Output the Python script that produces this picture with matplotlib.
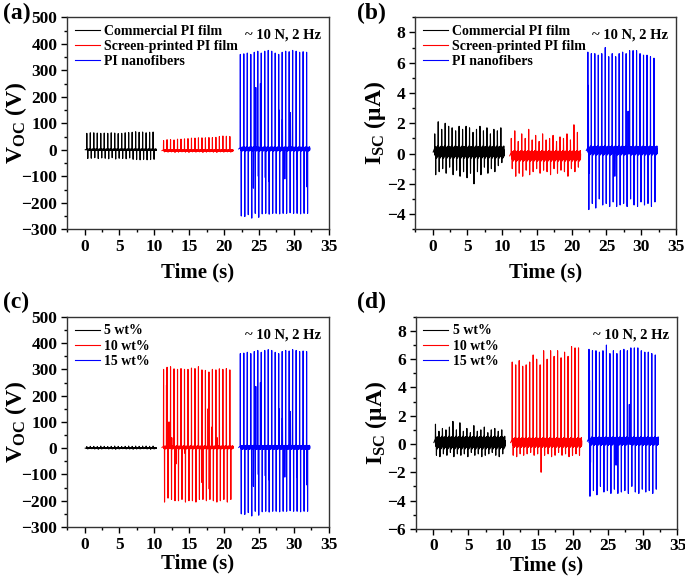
import numpy as np
import matplotlib
matplotlib.use("Agg")
from matplotlib import pyplot as plt
from matplotlib.ticker import MultipleLocator, AutoMinorLocator

plt.rcParams['font.family'] = 'Liberation Serif'
plt.rcParams['font.weight'] = 'bold'
plt.rcParams['mathtext.fontset'] = 'custom'
plt.rcParams['mathtext.rm'] = 'Liberation Serif:bold'
plt.rcParams['mathtext.it'] = 'Liberation Serif:bold'
plt.rcParams['mathtext.bf'] = 'Liberation Serif:bold'

# start times (s) of each measurement block, 2 Hz -> one cycle every 0.5 s
t_start = [0.3, 11.3, 22.3]
period = 0.5

# ---- open-circuit voltage peaks (V), one value per cycle ----
voc_pos_commercial = [62, 64, 64, 63, 62, 63, 62, 64, 63, 61, 62, 64, 65, 66, 68, 66, 67, 64, 66, 67]
voc_neg_commercial = [-33, -32, -30, -33, -31, -32, -34, -30, -35, -32, -33, -34, -31, -36, -37, -38, -36, -38, -37, -36]
voc_pos_screen = [35, 38, 38, 37, 40, 40, 41, 42, 44, 44, 45, 45, 45, 46, 46, 47, 50, 52, 51, 50]
voc_neg_screen = [-8, -9, -8, -10, -9, -8, -9, -10, -8, -9, -8, -10, -9, -8, -9, -10, -8, -9, -8, -9]
voc_pos_nano = [360, 362, 365, 360, 368, 372, 365, 372, 375, 372, 365, 360, 368, 372, 370, 375, 372, 368, 370, 368]
voc_neg_nano = [-250, -252, -245, -258, -240, -255, -242, -240, -243, -240, -240, -242, -240, -240, -238, -240, -240, -242, -240, -240]
voc_extra_nano = [(22.45, -150), (23.3, 290), (23.95, -110), (24.2, -145), (24.55, 235), (24.9, -100),
                  (25.2, 250), (25.9, -105), (26.4, -120), (27.85, 150), (28.35, 115), (28.7, -110),
                  (29.5, 140), (29.8, 185), (30.4, -110), (31.3, 40), (31.85, -140)]
voc_pos_5wt = [6, 7, 7, 6, 8, 7, 6, 7, 8, 7, 6, 7, 8, 7, 8, 7, 8, 8, 7, 8]
voc_neg_5wt = [-3, -2, -3, -4, -3, -2, -3, -3, -4, -3, -2, -3, -3, -4, -3, -3, -2, -3, -4, -3]
voc_pos_10wt = [300, 308, 310, 302, 300, 303, 300, 300, 305, 303, 310, 298, 296, 290, 300, 298, 302, 300, 303, 298]
voc_neg_10wt = [-205, -190, -195, -200, -200, -195, -205, -200, -200, -205, -195, -195, -200, -195, -200, -205, -200, -195, -205, -195]
voc_extra_10wt = [(11.75, 240), (12.0, -155), (12.1, 100), (12.5, 40), (13.1, -60), (14.4, -20),
                  (16.3, 245), (16.8, -130), (17.7, 150), (17.85, -155), (18.2, 80), (19.0, 40)]

# ---- short-circuit current peaks (uA), one value per cycle ----
isc_pos_commercial = [1.3, 2.1, 1.6, 2.0, 1.8, 1.7, 1.5, 1.8, 1.6, 1.8, 1.7, 1.4, 1.6, 1.8, 1.5, 1.7, 1.3, 1.6, 1.5, 1.7]
isc_neg_commercial = [-1.4, -1.2, -1.0, -1.3, -0.9, -1.4, -1.1, -1.5, -1.2, -1.6, -1.3, -2.0, -1.2, -1.4, -0.9, -1.3, -1.0, -1.2, -0.8, -0.6]
isc_pos_screen = [1.0, 1.5, 0.8, 1.3, 1.0, 1.6, 0.9, 1.2, 0.8, 1.3, 0.9, 1.0, 1.2, 0.8, 1.1, 1.0, 1.3, 0.9, 1.9, 1.4]
isc_neg_screen = [-1.0, -1.5, -1.3, -1.5, -1.1, -1.4, -1.2, -1.0, -1.3, -1.1, -1.2, -1.4, -1.0, -1.3, -1.1, -1.2, -1.5, -1.0, -1.2, -0.9]
isc_pos_nano = [6.7, 6.6, 6.6, 6.5, 6.6, 7.0, 6.4, 6.6, 6.4, 6.6, 6.7, 6.6, 6.8, 6.8, 6.8, 6.6, 6.5, 6.5, 6.4, 6.3]
isc_neg_nano = [-3.7, -3.3, -3.6, -3.0, -3.4, -3.3, -3.5, -3.2, -3.5, -3.4, -3.3, -3.5, -3.0, -3.4, -3.5, -3.2, -3.4, -3.3, -3.5, -3.2]
isc_extra_nano = [(22.4, 4.5), (22.55, -1.3), (28.1, 2.8), (26.2, -1.5)]
isc_pos_5wt = [1.4, 0.9, 1.1, 1.0, 1.2, 1.6, 1.0, 1.5, 0.9, 1.1, 0.8, 1.3, 0.9, 1.0, 1.2, 0.8, 1.0, 1.1, 0.9, 1.0]
isc_neg_5wt = [-0.8, -0.9, -0.7, -0.8, -0.6, -0.9, -0.7, -0.8, -0.7, -0.9, -0.6, -0.8, -0.7, -0.9, -0.8, -0.7, -0.6, -0.8, -0.9, -0.7]
isc_pos_10wt = [5.8, 5.6, 5.9, 5.5, 5.6, 5.8, 6.3, 6.0, 5.6, 6.6, 6.0, 6.6, 6.2, 6.6, 6.1, 6.5, 6.2, 6.9, 6.8, 6.8]
isc_neg_10wt = [-0.8, -0.9, -0.7, -0.8, -0.7, -0.6, -0.8, -0.7, -2.0, -0.8, -0.7, -0.9, -0.8, -0.6, -0.8, -0.7, -0.9, -0.8, -0.7, -0.8]
isc_extra_10wt = [(11.8, 2.3)]

# baseline offset and noise half-width of each block
voc_base = {'commercial': (0, 3), 'screen': (-3, 3), 'nano': (3, 8), '5wt': (0, 1.5), '10wt': (3, 6)}
isc_base = {'commercial': (0.1, 0.4), 'screen': (-0.15, 0.35), 'nano': (0.2, 0.3), '5wt': (0.1, 0.45), '10wt': (0.1, 0.35)}

# hand-typed baseline wiggle pattern (relative units)
wiggle = [0.6, -0.8, 0.3, -0.4, 0.9, -0.6, 0.1, -0.9, 0.7, -0.2, 0.5, -0.7, 0.8,
          -0.3, 0.2, -1.0, 0.6, -0.5, 0.9, -0.1, 0.4, -0.8, 1.0, -0.6, 0.3]

legend_films = ['Commercial PI film', 'Screen-printed PI film', 'PI nanofibers']
legend_wt = ['5 wt%', '10 wt%', '15 wt%']
colors = ['#000000', '#ff0000', '#0000ff']


def trace(t0, pos, neg, base, extra=()):
    offset, amp = base
    dt = period / len(wiggle)
    t, y = [], []
    t.append(t0 - 0.2)
    y.append(offset)
    for i in range(len(pos)):
        for k, w in enumerate(wiggle):
            t.append(t0 + i * period + k * dt)
            y.append(offset + amp * w)
        y[-len(wiggle) + 1] = pos[i]
        y[-len(wiggle) + 8] = neg[i]
    t = np.array(t)
    y = np.array(y, dtype=float)
    for te, ve in extra:
        y[np.argmin(np.abs(t - te))] = ve
    return t, y


def style(ax, ylabel, ylim, ystep, names, ylab_x, xlab_y):
    ax.set_xlim(-2.5, 35)
    ax.set_ylim(*ylim)
    ax.xaxis.set_major_locator(MultipleLocator(5))
    ax.xaxis.set_minor_locator(AutoMinorLocator(2))
    ax.yaxis.set_major_locator(MultipleLocator(ystep))
    ax.yaxis.set_minor_locator(AutoMinorLocator(2))
    ax.tick_params(which='both', direction='out', top=False, right=False, width=1,
                   labelsize=12.5, pad=3)
    ax.tick_params(which='major', length=4)
    ax.tick_params(which='minor', length=2.5)
    for s in ax.spines.values():
        s.set_linewidth(1)
        s.set_color('#333333')
    ax.set_xlabel('Time (s)', fontsize=15, fontweight='bold')
    ax.xaxis.set_label_coords(0.5, xlab_y)
    ax.set_ylabel(ylabel, fontsize=17, fontweight='bold')
    ax.yaxis.set_label_coords(ylab_x, 0.5)
    ax.legend(names, loc='upper left', frameon=False, handlelength=1.8,
              handletextpad=0.3, labelspacing=0.15, borderaxespad=0.15,
              prop={'family': 'Liberation Serif', 'weight': 'bold', 'size': 10})
    ax.text(0.97, 0.915, '~ 10 N, 2 Hz', transform=ax.transAxes, ha='right', va='center',
            fontsize=10.5, fontweight='bold')


fig = plt.figure(figsize=(6.85, 5.76), dpi=100)
ax_a = fig.add_axes([0.098, 0.602, 0.382, 0.368])
ax_b = fig.add_axes([0.606, 0.602, 0.381, 0.368])
ax_c = fig.add_axes([0.098, 0.085, 0.382, 0.365])
ax_d = fig.add_axes([0.607, 0.082, 0.382, 0.368])

for ax, blocks in [
    (ax_a, [(voc_pos_commercial, voc_neg_commercial, voc_base['commercial'], ()),
            (voc_pos_screen, voc_neg_screen, voc_base['screen'], ()),
            (voc_pos_nano, voc_neg_nano, voc_base['nano'], voc_extra_nano)]),
    (ax_c, [(voc_pos_5wt, voc_neg_5wt, voc_base['5wt'], ()),
            (voc_pos_10wt, voc_neg_10wt, voc_base['10wt'], voc_extra_10wt),
            (voc_pos_nano, voc_neg_nano, voc_base['nano'], voc_extra_nano)]),
    (ax_b, [(isc_pos_commercial, isc_neg_commercial, isc_base['commercial'], ()),
            (isc_pos_screen, isc_neg_screen, isc_base['screen'], ()),
            (isc_pos_nano, isc_neg_nano, isc_base['nano'], isc_extra_nano)]),
    (ax_d, [(isc_pos_5wt, isc_neg_5wt, isc_base['5wt'], ()),
            (isc_pos_10wt, isc_neg_10wt, isc_base['10wt'], isc_extra_10wt),
            (isc_pos_nano, isc_neg_nano, isc_base['nano'], isc_extra_nano)]),
]:
    for j, (p, n, b, ex) in enumerate(blocks):
        t, y = trace(t_start[j], p, n, b, ex)
        ax.plot(t, y, color=colors[j], lw=0.8)

style(ax_a, r'V$_{\rm OC}$ (V)', (-300, 500), 100, legend_films, -0.145, -0.155)
style(ax_b, 'I$_{\\rm SC}$ (\u03bcA)', (-5, 9), 2, legend_films, -0.103, -0.155)
style(ax_c, r'V$_{\rm OC}$ (V)', (-300, 500), 100, legend_wt, -0.145, -0.125)
style(ax_d, 'I$_{\\rm SC}$ (\u03bcA)', (-6, 9), 2, legend_wt, -0.103, -0.125)

# panel letters
fig.text(0.004, 0.995, '(a)', ha='left', va='top', fontsize=17, fontweight='bold')
fig.text(0.521, 0.995, '(b)', ha='left', va='top', fontsize=17, fontweight='bold')
fig.text(0.004, 0.493, '(c)', ha='left', va='top', fontsize=17, fontweight='bold')
fig.text(0.521, 0.493, '(d)', ha='left', va='top', fontsize=17, fontweight='bold')

fig.savefig('out.png', dpi=100)
